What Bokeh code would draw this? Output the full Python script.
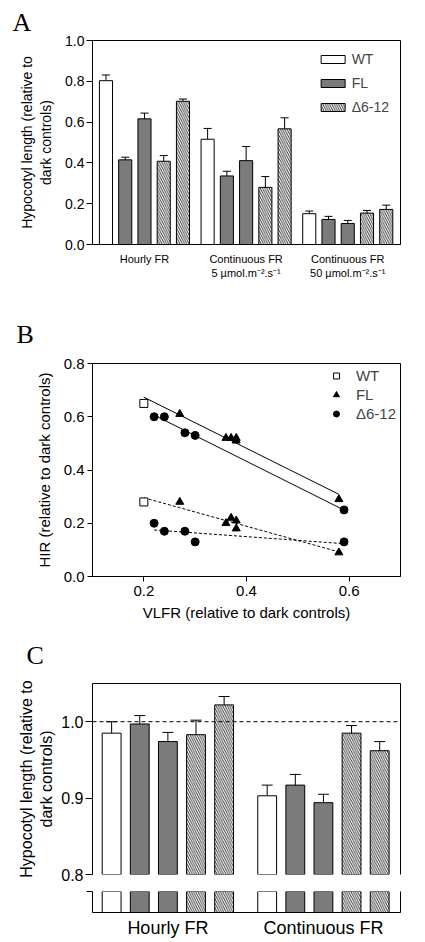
import numpy as np
from bokeh.plotting import figure
from bokeh.layouts import column
from bokeh.models import (ColumnDataSource, FixedTicker, PrintfTickFormatter, LinearAxis,
                          Whisker, TeeHead, Span, Legend, LegendItem, Range1d)
from bokeh.embed import file_html
from bokeh.resources import INLINE

SANS = "Liberation Sans"
SERIF = "Liberation Serif"
GREY = "#7b7b7b"
W = 424

# ---------------- Panel A data ----------------
A_GROUPS = ["Hourly FR", "Continuous FR\n5 µmol.m⁻².s⁻¹", "Continuous FR\n50 µmol.m⁻².s⁻¹"]
A_WT = [0.803, 0.516, 0.151]
A_WT_ERR = [0.028, 0.053, 0.013]
A_FL_1 = [0.415, 0.336, 0.123]
A_FL_1_ERR = [0.013, 0.023, 0.015]
A_FL_2 = [0.616, 0.411, 0.103]
A_FL_2_ERR = [0.028, 0.069, 0.015]
A_D_1 = [0.408, 0.280, 0.154]
A_D_1_ERR = [0.028, 0.053, 0.013]
A_D_2 = [0.702, 0.567, 0.172]
A_D_2_ERR = [0.011, 0.054, 0.021]
A_TICKS = [0.0, 0.2, 0.4, 0.6, 0.8, 1.0]

# ---------------- Panel B data ----------------
B_WT_VLFR = [0.20]
B_WT_HIR_SOLID = [0.65]
B_WT_HIR_DASHED = [0.28]
B_FL_VLFR = [0.27, 0.36, 0.37, 0.38, 0.38, 0.58]
B_FL_HIR_SOLID = [0.61, 0.52, 0.52, 0.52, 0.51, 0.29]
B_FL_HIR_DASHED = [0.28, 0.20, 0.22, 0.21, 0.18, 0.09]
B_D_VLFR = [0.22, 0.24, 0.28, 0.30, 0.59]
B_D_HIR_SOLID = [0.60, 0.60, 0.54, 0.53, 0.25]
B_D_HIR_DASHED = [0.20, 0.17, 0.17, 0.13, 0.13]
B_XTICKS = [0.2, 0.4, 0.6]
B_YTICKS = [0.0, 0.2, 0.4, 0.6, 0.8]

# ---------------- Panel C data ----------------
C_GROUPS = ["Hourly FR", "Continuous FR"]
C_WT = [0.985, 0.903]
C_WT_ERR = [0.015, 0.014]
C_FL_1 = [0.997, 0.917]
C_FL_1_ERR = [0.011, 0.014]
C_FL_2 = [0.974, 0.894]
C_FL_2_ERR = [0.012, 0.011]
C_D_1 = [0.983, 0.985]
C_D_1_ERR = [0.019, 0.010]
C_D_2 = [1.022, 0.962]
C_D_2_ERR = [0.011, 0.012]
C_TICKS = [0.8, 0.9, 1.0]


def series_sources(step, wt, wt_e, fl1, fl1_e, fl2, fl2_e, d1, d1_e, d2, d2_e):
    n = len(wt)
    base = [g * step for g in range(n)]

    def build(parts):
        xs, tops, ups = [], [], []
        for g in range(n):
            for slot, vals, errs in parts:
                xs.append(base[g] + slot)
                tops.append(vals[g])
                ups.append(vals[g] + errs[g])
        return ColumnDataSource(dict(x=xs, top=tops, upper=ups))

    wt_src = build([(0, wt, wt_e)])
    fl_src = build([(1, fl1, fl1_e), (2, fl2, fl2_e)])
    d_src = build([(3, d1, d1_e), (4, d2, d2_e)])
    centers = [b + 2 for b in base]
    return wt_src, fl_src, d_src, centers


def style_axis(ax, size, tick_out=5):
    ax.axis_line_color = "black"
    ax.axis_line_width = 1
    ax.major_tick_line_color = "black"
    ax.minor_tick_line_color = None
    ax.major_tick_out = tick_out
    ax.major_tick_in = 0
    ax.major_label_text_font = SANS
    ax.major_label_text_font_size = f"{size}px"
    ax.major_label_text_color = "black"
    ax.axis_label_text_font = SANS
    ax.axis_label_text_font_style = "normal"
    ax.axis_label_text_color = "black"


def border_axis(p, side):
    ax = LinearAxis(ticker=FixedTicker(ticks=[]), major_tick_line_color=None,
                    minor_tick_line_color=None, major_label_text_font_size="0px",
                    axis_line_color="black", major_tick_out=0, major_tick_in=0,
                    major_label_standoff=0)
    p.add_layout(ax, side)


def panel_letter(p, letter, offset, standoff):
    p.title.text = letter
    p.title.align = "left"
    p.title.offset = offset
    p.title.standoff = standoff
    p.title.text_font = SERIF
    p.title.text_font_size = "26px"
    p.title.text_font_style = "normal"
    p.title.text_color = "black"


def draw_bars(p, srcs, width, head):
    wt_src, fl_src, d_src = srcs
    r_wt = p.vbar(x="x", top="top", bottom=0, width=width, source=wt_src,
                  fill_color="white", line_color="black", line_width=1)
    r_fl = p.vbar(x="x", top="top", bottom=0, width=width, source=fl_src,
                  fill_color=GREY, line_color="black", line_width=1)
    r_d = p.vbar(x="x", top="top", bottom=0, width=width, source=d_src,
                 fill_color="white", line_color="black", line_width=1,
                 hatch_pattern="left_diagonal_line", hatch_color="black",
                 hatch_scale=4.5, hatch_weight=0.8)
    if head:
        for s in srcs:
            p.add_layout(Whisker(source=s, base="x", lower="top", upper="upper",
                                 dimension="height", line_color="black", line_width=1,
                                 upper_head=TeeHead(size=head, line_color="black", line_width=1),
                                 lower_head=None))
    return r_wt, r_fl, r_d


# ================= Panel A =================
A_STEP = 5.28
a_wt, a_fl, a_d, a_centers = series_sources(A_STEP, A_WT, A_WT_ERR, A_FL_1, A_FL_1_ERR,
                                            A_FL_2, A_FL_2_ERR, A_D_1, A_D_1_ERR,
                                            A_D_2, A_D_2_ERR)
pA = figure(width=W, height=300, x_range=Range1d(-0.70, 15.3), y_range=Range1d(0, 1.0),
            min_border_left=92, min_border_right=24, min_border_top=40, min_border_bottom=56,
            toolbar_location=None, output_backend="svg", outline_line_color="black")
pA.grid.visible = False
rA = draw_bars(pA, (a_wt, a_fl, a_d), 0.68, 8)
style_axis(pA.yaxis[0], 14, 6)
pA.yaxis.ticker = FixedTicker(ticks=A_TICKS)
pA.yaxis.formatter = PrintfTickFormatter(format="%.1f")
pA.yaxis.major_label_standoff = 2
pA.yaxis.axis_label = "Hypocotyl length (relative to\ndark controls)"
pA.yaxis.axis_label_text_font_size = "14px"
pA.yaxis.axis_label_standoff = 8
style_axis(pA.xaxis[0], 11, 0)
pA.xaxis.major_tick_line_color = None
pA.xaxis.ticker = FixedTicker(ticks=a_centers)
pA.xaxis.major_label_overrides = {c: g for c, g in zip(a_centers, A_GROUPS)}
pA.xaxis.major_label_standoff = 8
legA = Legend(items=[LegendItem(label="WT", renderers=[rA[0]]),
                     LegendItem(label="FL", renderers=[rA[1]]),
                     LegendItem(label="Δ6-12", renderers=[rA[2]])],
              location="top_right", glyph_width=30, glyph_height=10, label_height=14,
              label_standoff=4, spacing=8, padding=0, margin=11,
              label_text_font=SANS, label_text_font_size="14px",
              border_line_color=None, background_fill_alpha=0)
pA.add_layout(legA)
panel_letter(pA, "A", -80, 8)

# ================= Panel B =================
pB = figure(width=W, height=324, x_range=Range1d(0.1, 0.7), y_range=Range1d(0, 0.8),
            min_border_left=88, min_border_right=18, min_border_top=63, min_border_bottom=48,
            toolbar_location=None, output_backend="svg", outline_line_color="black")
pB.grid.visible = False
for ax in (pB.xaxis[0], pB.yaxis[0]):
    style_axis(ax, 15, 5)
    ax.axis_label_text_font_size = "15px"
    ax.formatter = PrintfTickFormatter(format="%.1f")
pB.xaxis.ticker = FixedTicker(ticks=B_XTICKS)
pB.yaxis.ticker = FixedTicker(ticks=B_YTICKS)
pB.xaxis.axis_label = "VLFR (relative to dark controls)"
pB.yaxis.axis_label = "HIR (relative to dark controls)"
pB.xaxis.major_label_standoff = 4
pB.yaxis.major_label_standoff = 3
pB.xaxis.axis_label_standoff = 5
pB.yaxis.axis_label_standoff = 8


def fit_line(p, xs, ys, dash):
    coef = np.polyfit(xs, ys, 1)
    ends = np.array([min(xs), max(xs)])
    kw = dict(line_color="black", line_width=1)
    if dash:
        kw["line_dash"] = "3 2"
    p.line(ends, np.polyval(coef, ends), **kw)


fit_line(pB, B_WT_VLFR + B_FL_VLFR, B_WT_HIR_SOLID + B_FL_HIR_SOLID, False)
fit_line(pB, B_D_VLFR, B_D_HIR_SOLID, False)
fit_line(pB, B_WT_VLFR + B_FL_VLFR, B_WT_HIR_DASHED + B_FL_HIR_DASHED, True)
fit_line(pB, B_D_VLFR, B_D_HIR_DASHED, True)

rb_wt = pB.scatter(B_WT_VLFR * 2, B_WT_HIR_SOLID + B_WT_HIR_DASHED, marker="square", size=8,
                   fill_color="white", line_color="black", line_width=1)
rb_fl = pB.scatter(B_FL_VLFR * 2, B_FL_HIR_SOLID + B_FL_HIR_DASHED, marker="triangle", size=8,
                   fill_color="black", line_color="black")
rb_d = pB.scatter(B_D_VLFR * 2, B_D_HIR_SOLID + B_D_HIR_DASHED, marker="circle", size=8,
                  fill_color="black", line_color="black")
legB = Legend(items=[LegendItem(label="WT", renderers=[rb_wt]),
                     LegendItem(label="FL", renderers=[rb_fl]),
                     LegendItem(label="Δ6-12", renderers=[rb_d])],
              location="top_right", glyph_width=16, glyph_height=15, label_height=15,
              label_standoff=12, spacing=2, padding=0, margin=4,
              label_text_font=SANS, label_text_font_size="15px",
              border_line_color=None, background_fill_alpha=0)
pB.add_layout(legB)
panel_letter(pB, "B", -76, 29)

# ================= Panel C (broken axis) =================
C_STEP = 5.53
c_wt, c_fl, c_d, c_centers = series_sources(C_STEP, C_WT, C_WT_ERR, C_FL_1, C_FL_1_ERR,
                                            C_FL_2, C_FL_2_ERR, C_D_1, C_D_1_ERR,
                                            C_D_2, C_D_2_ERR)
c_xr = Range1d(-0.68, 10.27)
pC = figure(width=W, height=267, x_range=c_xr, y_range=Range1d(0.8, 1.05),
            min_border_left=78, min_border_right=1, min_border_top=59, min_border_bottom=17,
            toolbar_location=None, output_backend="svg", outline_line_color=None,
            x_axis_location=None)
pC.grid.visible = False
draw_bars(pC, (c_wt, c_fl, c_d), 0.67, 11)
pC.add_layout(Span(location=1.0, dimension="width", line_color="black", line_width=1,
                   line_dash="4 3"))
style_axis(pC.yaxis[0], 16, 7)
pC.yaxis.ticker = FixedTicker(ticks=C_TICKS)
pC.yaxis.formatter = PrintfTickFormatter(format="%.1f")
pC.yaxis.major_label_standoff = 2
pC.yaxis.axis_label = "Hypocotyl length (relative to\ndark controls)"
pC.yaxis.axis_label_text_font_size = "16px"
pC.yaxis.axis_label_standoff = 3
border_axis(pC, "above")
border_axis(pC, "right")
panel_letter(pC, "C", -66, 28)

pC2 = figure(width=W, height=49, x_range=c_xr, y_range=Range1d(0, 0.03),
             min_border_left=78, min_border_right=1, min_border_top=0, min_border_bottom=25,
             toolbar_location=None, output_backend="svg", outline_line_color=None)
pC2.grid.visible = False
draw_bars(pC2, (c_wt, c_fl, c_d), 0.67, 0)
style_axis(pC2.yaxis[0], 16, 6)
pC2.yaxis.ticker = FixedTicker(ticks=[0.03])
pC2.yaxis.major_label_overrides = {0.03: ""}
style_axis(pC2.xaxis[0], 18, 0)
pC2.xaxis.major_tick_line_color = None
pC2.xaxis.ticker = FixedTicker(ticks=c_centers)
pC2.xaxis.major_label_overrides = {c: g for c, g in zip(c_centers, C_GROUPS)}
pC2.xaxis.major_label_standoff = 5
border_axis(pC2, "right")

layout = column(pA, pB, pC, pC2, spacing=0)
open("out.html", "w").write(file_html(layout, INLINE))
